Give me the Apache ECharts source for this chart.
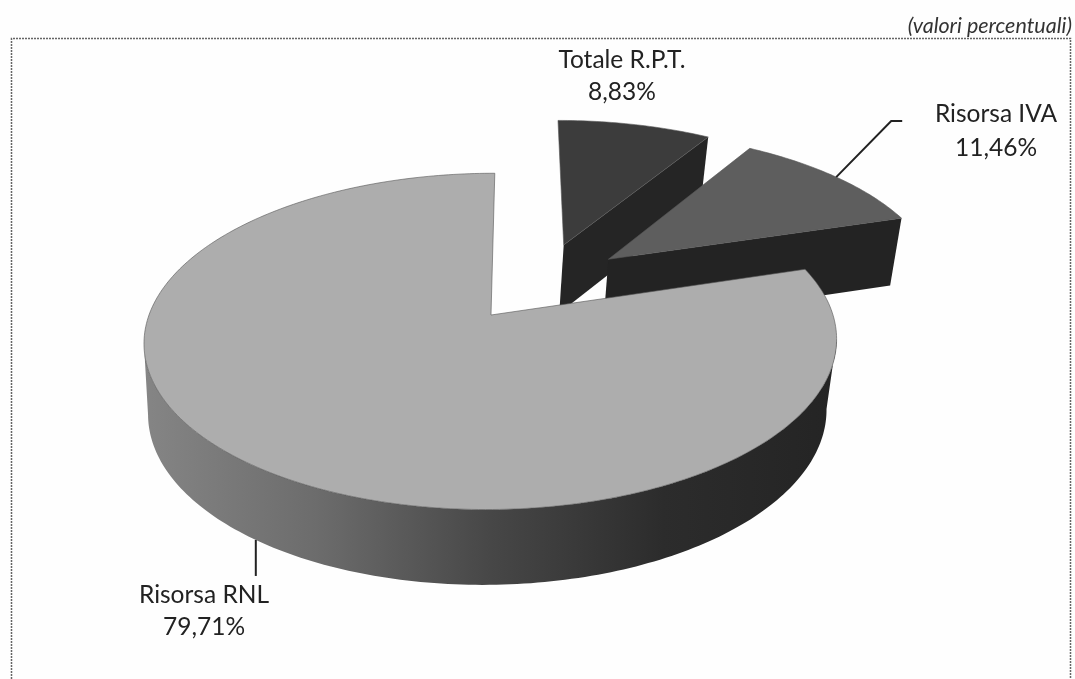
<!DOCTYPE html>
<html>
<head>
<meta charset="utf-8">
<style>
  html, body { margin: 0; padding: 0; background: #fff; }
  #chart { width: 1075px; height: 679px; }
</style>
<script src="https://cdn.jsdelivr.net/npm/echarts@6/dist/echarts.min.js"></script>
</head>
<body>
<div id="chart"></div>
<script>
const categories = ['Totale R.P.T.', 'Risorsa IVA', 'Risorsa RNL'];
const shares = [8.83, 11.46, 79.71];

// slice shift from the pie centre, in units of the radius
const explode = [[0.222, -0.458], [0.358, -0.359], [0, 0]];
const topColors = ['#3c3c3c', '#5e5e5e', '#adadad'];
const radialColors = ['#252525', '#232323', '#333333'];

const font = '24.5px Lato, "Open Sans", sans-serif';
const textColor = '#222';

// perspective of the tilted pie: top face and bottom face are two planes
const persp = 0.157;
const topPlane = { vx: 519, cy: 315, a: 342, b: 164 };
const botPlane = { vx: 516, cy: 385, a: 335, b: 168.5 };
const shiftX = 28;

const total = shares.reduce((a, b) => a + b, 0);

function project(plane, u, v) {
  const s = 1 / (1 - persp * v);
  return [plane.vx + (plane.a * u - shiftX) * s, plane.cy + plane.b * v * s];
}

function onRim(plane, off, deg) {
  const r = deg * Math.PI / 180;
  return project(plane, off[0] + Math.sin(r), off[1] - Math.cos(r));
}

function arc(plane, off, from, to) {
  const pts = [];
  for (let d = from; d < to; d += 1) pts.push(onRim(plane, off, d));
  pts.push(onRim(plane, off, to));
  return pts;
}

// front part of the rim, between the right and left extremes of the top face
function frontRim(topArc, botArc) {
  let iMax = 0;
  let iMin = 0;
  topArc.forEach((p, n) => {
    if (p[0] > topArc[iMax][0]) iMax = n;
    if (p[0] < topArc[iMin][0]) iMin = n;
  });
  return topArc.slice(iMax, iMin + 1).concat(botArc.slice(iMax, iMin + 1).reverse());
}

function rimFill() {
  return new echarts.graphic.LinearGradient(0, 0, 1, 0, [
    { offset: 0, color: '#858585' },
    { offset: 0.25, color: '#6c6c6c' },
    { offset: 0.5, color: '#474747' },
    { offset: 0.75, color: '#2c2c2c' },
    { offset: 1, color: '#242424' }
  ]);
}

function label(x, y, text) {
  return {
    type: 'text',
    style: { x: x, y: y, text: text, font: font, fill: textColor, align: 'center', verticalAlign: 'middle' }
  };
}

function renderSlice(params, api) {
  const i = params.dataIndex;
  const off = explode[i];
  const value = api.value(0);
  let before = 0;
  for (let k = 0; k < i; k++) before += shares[k];
  const from = before / total * 360;
  const to = from + value / total * 360;
  const mid = (from + to) / 2;
  const pct = value.toFixed(2).replace('.', ',') + '%';

  const topApex = project(topPlane, off[0], off[1]);
  const botApex = project(botPlane, off[0], off[1]);
  const topArc = arc(topPlane, off, from, to);
  const botArc = arc(botPlane, off, from, to);

  const children = [];
  if (to < 90) {
    // slice ends on the back half: its radial wall is what shows
    children.push({
      type: 'polygon',
      shape: { points: [topApex, onRim(topPlane, off, to), onRim(botPlane, off, to), botApex] },
      style: { fill: radialColors[i] }
    });
  } else {
    children.push({
      type: 'polygon',
      shape: { points: frontRim(topArc, botArc) },
      style: { fill: rimFill() }
    });
  }
  children.push({
    type: 'polygon',
    shape: { points: [topApex].concat(topArc) },
    style: { fill: topColors[i], stroke: '#555', lineWidth: 0.6 }
  });

  if (i === 0) {
    children.push(label(622, 60, categories[i]), label(622, 92, pct));
  } else if (i === 1) {
    const p = onRim(topPlane, off, mid);
    children.push({
      type: 'polyline',
      shape: { points: [p, [p[0] + 55, p[1] - 56], [p[0] + 66, p[1] - 56]] },
      style: { stroke: '#222', lineWidth: 2, fill: 'none' }
    });
    children.push(label(996, 114, categories[i]), label(996, 148, pct));
  } else {
    const p = onRim(botPlane, off, mid);
    children.push({
      type: 'line',
      shape: { x1: p[0], y1: p[1], x2: p[0], y2: p[1] + 36 },
      style: { stroke: '#222', lineWidth: 2 }
    });
    children.push(label(204, 595, categories[i]), label(204, 627, pct));
  }
  return { type: 'group', children: children };
}

const chart = echarts.init(document.getElementById('chart'), null, { renderer: 'canvas' });

chart.setOption({
  backgroundColor: '#fefefe',
  animation: false,
  graphic: [
    {
      type: 'polyline',
      shape: { points: [[11.5, 679], [11.5, 38.5], [1070.5, 38.5], [1070.5, 679]] },
      style: { stroke: '#666', lineWidth: 1.5, lineDash: [2, 1], fill: 'none' },
      silent: true
    },
    {
      type: 'text',
      style: {
        x: 1072, y: 26, text: '(valori percentuali)',
        font: 'italic 21.5px Lato, "Open Sans", sans-serif', fill: '#333',
        align: 'right', verticalAlign: 'middle'
      },
      silent: true
    }
  ],
  series: [{
    type: 'custom',
    coordinateSystem: 'none',
    renderItem: renderSlice,
    data: shares.map((v, i) => ({ name: categories[i], value: [v] }))
  }]
});
</script>
</body>
</html>
